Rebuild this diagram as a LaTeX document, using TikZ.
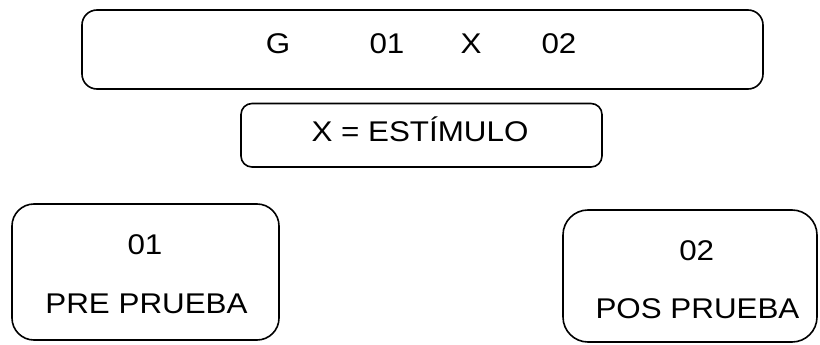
\documentclass[tikz,border=0pt]{standalone}
\usepackage{fontspec}
\setmainfont{Liberation Sans}[FakeStretch=1.1]
\begin{document}
\begin{tikzpicture}[x=1pt,y=-1pt,
  frame/.style={draw=black,line width=1.6pt,fill=none,inner sep=0pt},
  txt/.style={anchor=base,inner sep=0pt,font=\fontsize{28.5pt}{34pt}\selectfont}]
\useasboundingbox (0,0) rectangle (820,345);
% design line box
\node[frame,rounded corners=15pt,minimum width=681pt,minimum height=79pt] (design) at (422.5,49.5) {};
\node[txt] (g)  at (278,54) {G};
\node[txt] (o1) at (387,54) {01};
\node[txt] (x)  at (471,54) {X};
\node[txt] (o2) at (559,54) {02};
% stimulus box
\node[frame,rounded corners=11pt,minimum width=361pt,minimum height=63.5pt] (stim) at (421.5,135.25) {};
\node[txt] (stimtxt) at (420,141.5) {X = ESTÍMULO};
% pre-test box
\node[frame,rounded corners=22pt,minimum width=267pt,minimum height=136pt] (pre) at (145.5,272) {};
\node[txt] (pren) at (145,254) {01};
\node[txt] (pret) at (146.5,313.3) {PRE PRUEBA};
% post-test box
\node[frame,rounded corners=25pt,minimum width=254pt,minimum height=132pt] (post) at (690,276) {};
\node[txt] (postn) at (696.7,260) {02};
\node[txt] (postt) at (697.5,318) {POS PRUEBA};
\end{tikzpicture}
\end{document}
